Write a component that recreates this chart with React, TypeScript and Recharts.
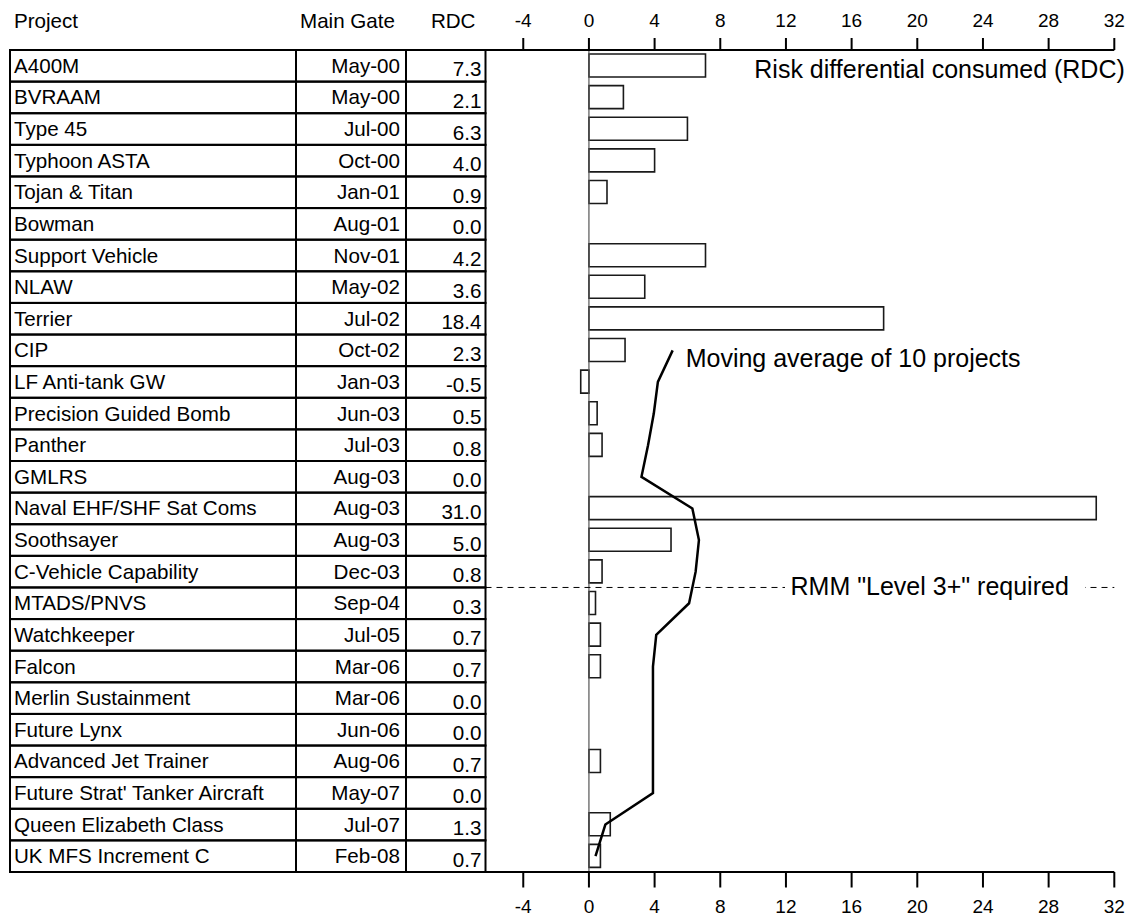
import React from 'react';
import { ComposedChart, Bar, Line, XAxis, YAxis, ReferenceLine } from 'recharts';

const projects = [
  'A400M', 'BVRAAM', 'Type 45', 'Typhoon ASTA', 'Tojan & Titan', 'Bowman',
  'Support Vehicle', 'NLAW', 'Terrier', 'CIP', 'LF Anti-tank GW',
  'Precision Guided Bomb', 'Panther', 'GMLRS', 'Naval EHF/SHF Sat Coms',
  'Soothsayer', 'C-Vehicle Capability', 'MTADS/PNVS', 'Watchkeeper', 'Falcon',
  'Merlin Sustainment', 'Future Lynx', 'Advanced Jet Trainer',
  "Future Strat' Tanker Aircraft", 'Queen Elizabeth Class', 'UK MFS Increment C',
];

const mainGates = [
  'May-00', 'May-00', 'Jul-00', 'Oct-00', 'Jan-01', 'Aug-01', 'Nov-01', 'May-02',
  'Jul-02', 'Oct-02', 'Jan-03', 'Jun-03', 'Jul-03', 'Aug-03', 'Aug-03', 'Aug-03',
  'Dec-03', 'Sep-04', 'Jul-05', 'Mar-06', 'Mar-06', 'Jun-06', 'Aug-06', 'May-07',
  'Jul-07', 'Feb-08',
];

// RDC as printed in the table
const rdc = [
  7.3, 2.1, 6.3, 4.0, 0.9, 0.0, 4.2, 3.6, 18.4, 2.3, -0.5, 0.5, 0.8, 0.0, 31.0,
  5.0, 0.8, 0.3, 0.7, 0.7, 0.0, 0.0, 0.7, 0.0, 1.3, 0.7,
];

const barRdc = [
  7.1, 2.1, 6.0, 4.0, 1.1, 0, 7.1, 3.4, 17.95, 2.2, -0.5, 0.5, 0.8, 0, 30.9,
  5.0, 0.8, 0.4, 0.7, 0.7, 0, 0, 0.7, 0, 1.3, 0.7,
];

const movingAvg = [
  null, null, null, null, null, null, null, null, null,
  5.1, 4.2, 3.95, 3.6, 3.2, 6.3, 6.7, 6.5, 6.1, 4.1, 3.9, 3.9, 3.9, 3.9, 3.9, 1.0, 0.4,
];

const xTicks = [-4, 0, 4, 8, 12, 16, 20, 24, 28, 32];

const data = projects.map((p, i) => ({
  project: p,
  gate: mainGates[i],
  rdc: rdc[i],
  bar: barRdc[i],
  ma: movingAvg[i],
}));

const firstMa = movingAvg.findIndex((v) => v != null);

const FONT = '"Liberation Sans", Arial, Helvetica, sans-serif';
const CHART_W = 1130;
const CHART_H = 916;
const TOP_AXIS_H = 50;
const BOTTOM_AXIS_H = 44;
const ROW_H = (CHART_H - TOP_AXIS_H - BOTTOM_AXIS_H) / projects.length;

// table column edges
const COL_LEFT = 10;
const COL_GATE = 296;
const COL_RDC = 406;
const COL_RIGHT = 485.5;

const cellStyle = { fill: 'none', stroke: '#000', strokeWidth: 2 };
const textStyle = { fill: '#000', fontSize: 20.6, fontFamily: FONT };

const TableRow = (props: any) => {
  const { y, index } = props;
  const row = data[index];
  const top = y - ROW_H / 2;
  return (
    <g>
      {index === 0 && (
        <g>
          <text x={COL_LEFT + 4} y={top - 22} {...textStyle}>Project</text>
          <text x={COL_RDC - 11} y={top - 22} textAnchor="end" {...textStyle}>Main Gate</text>
          <text x={COL_RIGHT - 10} y={top - 22} textAnchor="end" {...textStyle}>RDC</text>
        </g>
      )}
      <rect x={COL_LEFT} y={top} width={COL_GATE - COL_LEFT} height={ROW_H} {...cellStyle} />
      <rect x={COL_GATE} y={top} width={COL_RDC - COL_GATE} height={ROW_H} {...cellStyle} />
      <rect x={COL_RDC} y={top} width={COL_RIGHT - COL_RDC} height={ROW_H} {...cellStyle} />
      <text x={COL_LEFT + 4} y={y + 7} {...textStyle}>{row.project}</text>
      <text x={COL_RDC - 6} y={y + 7} textAnchor="end" {...textStyle}>{row.gate}</text>
      <text x={COL_RIGHT - 4} y={y + 10.5} textAnchor="end" {...textStyle}>{row.rdc.toFixed(1)}</text>
    </g>
  );
};

const riskLabel = (p: any) => {
  const vb = p.viewBox;
  return (
    <text x={vb.x + vb.width + 10.5} y={vb.y + vb.height + 28} textAnchor="end"
      fill="#000" fontSize={25} fontFamily={FONT}>
      Risk differential consumed (RDC)
    </text>
  );
};

const rmmLabel = (p: any) => {
  const vb = p.viewBox;
  return (
    <g>
      <rect x={vb.x + 299.5} y={vb.y - 12} width={300} height={24} fill="#fff" />
      <text x={vb.x + 305} y={vb.y + 8} fill="#000" fontSize={25} fontFamily={FONT}>
        RMM "Level 3+" required
      </text>
    </g>
  );
};

const maLabel = (p: any) => {
  if (p.value !== movingAvg[firstMa] || (p.index !== 0 && p.index !== firstMa)) return null;
  const px = p.x ?? p.viewBox?.x;
  const py = p.y ?? p.viewBox?.y;
  return (
    <text x={px + 13} y={py + 17} fill="#000" fontSize={25} fontFamily={FONT}>
      Moving average of 10 projects
    </text>
  );
};

const axisStroke = { stroke: '#000', strokeWidth: 2 };
const tickFont = { fill: '#000', fontSize: 19, fontFamily: FONT };

const App: React.FC = () => {
  return (
    <div style={{ width: CHART_W, height: CHART_H, fontFamily: FONT }}>
      <style>{'body { margin: 0; }'}</style>
      <ComposedChart
        width={CHART_W}
        height={CHART_H}
        layout="vertical"
        data={data}
        margin={{ top: 0, right: 15.7, bottom: 0, left: 0 }}
      >
        <XAxis xAxisId="top" orientation="top" type="number" domain={[-6.3, 32]} ticks={xTicks}
          allowDataOverflow height={TOP_AXIS_H} tickSize={12} tickMargin={11}
          axisLine={axisStroke} tickLine={axisStroke} tick={tickFont} label={riskLabel} />
        <XAxis xAxisId="bottom" orientation="bottom" type="number" domain={[-6.3, 32]} ticks={xTicks}
          allowDataOverflow height={BOTTOM_AXIS_H} tickSize={15.5} tickMargin={12.5}
          axisLine={axisStroke} tickLine={axisStroke} tick={tickFont} />
        <YAxis type="category" dataKey="project" width={COL_RIGHT} interval={0}
          axisLine={false} tickLine={false} tick={TableRow} />
        <ReferenceLine xAxisId="top" x={0} stroke="#555" strokeWidth={1.2} />
        <Bar xAxisId="top" dataKey="bar" barSize={23} fill="#fff" stroke="#1a1a1a"
          strokeWidth={1.6} isAnimationActive={false} />
        <Line xAxisId="top" dataKey="ma" type="linear" stroke="#000" strokeWidth={2.5}
          dot={false} activeDot={false} isAnimationActive={false} label={maLabel} />
        <ReferenceLine xAxisId="top" y="MTADS/PNVS" position="start" stroke="#000"
          strokeWidth={1} strokeDasharray="6 5" label={rmmLabel} />
      </ComposedChart>
    </div>
  );
};

export default App;
